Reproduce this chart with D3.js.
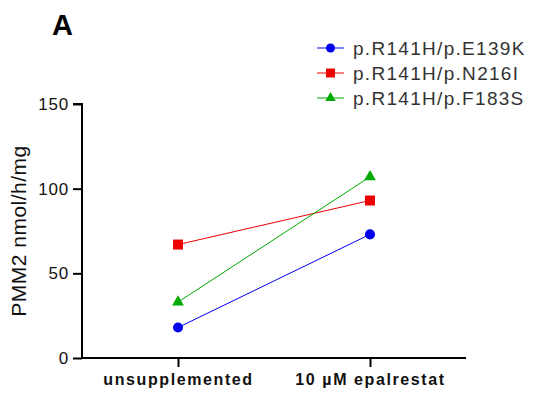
<!DOCTYPE html>
<html>
<head>
<meta charset="utf-8">
<script src="https://cdn.jsdelivr.net/npm/d3@7"></script>
<style>
  body { margin: 0; background: #fff; }
  svg { font-family: "Liberation Sans", Arial, sans-serif; }
</style>
</head>
<body>
<div id="chart"></div>
<script>
const categories = ['unsupplemented', '10 µM epalrestat'];
const seriesNames = ['p.R141H/p.E139K', 'p.R141H/p.N216I', 'p.R141H/p.F183S'];
const e139kValues = [18, 73];
const n216iValues = [67, 93];
const f183sValues = [33, 107];
const yTicks = [0, 50, 100, 150];

const w = 537, h = 396;
const colors = ['#0000ee', '#ee0000', '#00aa00'];
const shapes = [d3.symbolCircle, d3.symbolSquare, d3.symbolTriangle];
const sizes = [80, 100, 60];
const series = [e139kValues, n216iValues, f183sValues].map((v, i) => ({
    name: seriesNames[i], values: v, color: colors[i], shape: shapes[i], size: sizes[i]
}));

const svg = d3.select('#chart').append('svg')
    .attr('width', w)
    .attr('height', h);

const x = d3.scalePoint().domain(categories).range([178, 370]);
const y = d3.scaleLinear().domain([0, 150]).range([358, 104]);

// panel letter
svg.append('text')
    .attr('x', 52).attr('y', 35)
    .attr('font-size', 29).attr('font-weight', 'bold')
    .text('A');

// y axis
const yAxis = svg.append('g')
    .attr('transform', 'translate(82,0)')
    .call(d3.axisLeft(y).tickValues(yTicks).tickSize(9).tickPadding(4));
yAxis.select('.domain').attr('stroke-width', 2).attr('d', 'M-9,' + y(150) + 'H0V' + y(0));
yAxis.selectAll('.tick line').attr('stroke-width', 2);
yAxis.selectAll('.tick text')
    .attr('font-size', 17).attr('letter-spacing', 0.8)
    .attr('font-family', 'Liberation Sans, Arial').attr('fill', '#111');

// x axis
const xAxis = svg.append('g')
    .attr('transform', 'translate(0,358)')
    .call(d3.axisBottom(x).tickSize(9).tickPadding(7));
xAxis.select('.domain').attr('stroke-width', 2).attr('d', 'M81,0H466');
xAxis.selectAll('.tick line').attr('stroke-width', 2);
xAxis.selectAll('.tick text')
    .attr('font-size', 16).attr('font-weight', 'bold')
    .attr('font-family', 'Liberation Sans, Arial')
    .attr('letter-spacing', 1.6).attr('fill', '#111');

// y label
svg.append('text')
    .attr('transform', 'translate(26,' + ((y(0) + y(150)) / 2) + ') rotate(-90)')
    .attr('text-anchor', 'middle')
    .attr('font-size', 21)
    .attr('letter-spacing', 0.5)
    .attr('fill', '#111')
    .text('PMM2 nmol/h/mg');

// lines and markers
const line = d3.line().x((d, i) => x(categories[i])).y(d => y(d));
series.forEach(s => {
    svg.append('path')
        .attr('d', line(s.values))
        .attr('fill', 'none')
        .attr('stroke', s.color)
        .attr('stroke-width', 1);
    svg.selectAll(null)
        .data(s.values)
        .enter()
        .append('path')
        .attr('d', d3.symbol().type(s.shape).size(s.size))
        .attr('transform', (d, i) => 'translate(' + x(categories[i]) + ',' + y(d) + ')')
        .attr('fill', s.color);
});

// legend
const legend = svg.append('g').attr('transform', 'translate(317,48)');
series.forEach((s, i) => {
    const g = legend.append('g').attr('transform', 'translate(0,' + i * 25 + ')');
    g.append('line').attr('x1', 0).attr('x2', 27).attr('stroke', s.color).attr('stroke-width', 1);
    g.append('path').attr('d', d3.symbol().type(s.shape).size(s.size * 0.8))
        .attr('transform', 'translate(13.5,0)').attr('fill', s.color);
    g.append('text').attr('x', 36).attr('y', 7)
        .attr('font-size', 19).attr('letter-spacing', 1.3).attr('fill', '#333')
        .text(s.name);
});
</script>
</body>
</html>
